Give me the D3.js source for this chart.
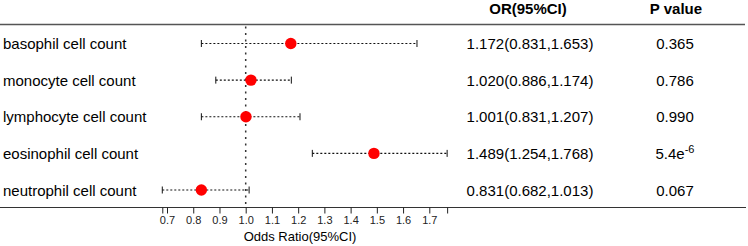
<!DOCTYPE html>
<html>
<head>
<meta charset="utf-8">
<script src="https://cdn.jsdelivr.net/npm/d3@7"></script>
<style>
  body { margin: 0; background: #fff; }
  svg { display: block; font-family: "Liberation Sans", Arial, sans-serif; }
</style>
</head>
<body>
<div id="chart"></div>
<script>
// data
const categories = ["basophil cell count", "monocyte cell count", "lymphocyte cell count",
                    "eosinophil cell count", "neutrophil cell count"];
const orValues = [1.172, 1.020, 1.001, 1.489, 0.831];
const ciLow = [0.831, 0.886, 0.831, 1.254, 0.682];
const ciHigh = [1.653, 1.174, 1.207, 1.768, 1.013];
const pValues = ["0.365", "0.786", "0.990", "5.4e|-6", "0.067"];
const tickValues = [0.682, 0.7, 0.8, 0.9, 1.0, 1.1, 1.2, 1.3, 1.4, 1.5, 1.6, 1.7, 1.768];
const tickLabels = ["", "0.7", "0.8", "0.9", "1.0", "1.1", "1.2", "1.3", "1.4", "1.5", "1.6", "1.7", ""];

const rows = categories.map((c, i) => ({
    name: c, or: orValues[i], lo: ciLow[i], hi: ciHigh[i], p: pValues[i]
}));

const width = 748, height = 246;
const topLine = 24.5, axisY = 207.5;

const svg = d3.select("#chart").append("svg")
    .attr("width", width)
    .attr("height", height);

const x = d3.scaleLinear()
    .domain([1.0, 1.7])
    .range([245.7, 429.3]);

const y = d3.scalePoint()
    .domain(categories)
    .range([43.5, 190]);

// header
svg.append("text")
    .attr("x", 528).attr("y", 13.5)
    .attr("text-anchor", "middle")
    .attr("font-size", 15).attr("font-weight", "bold")
    .text("OR(95%CI)");
svg.append("text")
    .attr("x", 676).attr("y", 13.5)
    .attr("text-anchor", "middle")
    .attr("font-size", 15).attr("font-weight", "bold")
    .text("P value");

// horizontal rules
svg.append("line")
    .attr("x1", 0).attr("x2", 745)
    .attr("y1", topLine).attr("y2", topLine)
    .attr("stroke", "#555").attr("stroke-width", 1.5);
svg.append("line")
    .attr("x1", 0).attr("x2", 746)
    .attr("y1", axisY).attr("y2", axisY)
    .attr("stroke", "#333").attr("stroke-width", 1.2);

// reference line at 1
svg.append("line")
    .attr("x1", x(1)).attr("x2", x(1))
    .attr("y1", topLine + 2).attr("y2", axisY)
    .attr("stroke", "#333").attr("stroke-width", 1.5)
    .attr("stroke-dasharray", "2,4.5");

// axis
const axis = svg.append("g")
    .attr("transform", `translate(0,${axisY})`)
    .call(d3.axisBottom(x)
        .tickValues(tickValues)
        .tickFormat((d, i) => tickLabels[i])
        .tickSize(6)
        .tickPadding(3));
axis.select(".domain").remove();
axis.selectAll(".tick line").attr("stroke", "#222");
axis.selectAll(".tick text")
    .attr("font-size", 11)
    .attr("font-family", "Liberation Sans, Arial, sans-serif")
    .attr("fill", "#222");

svg.append("text")
    .attr("x", 300).attr("y", 241)
    .attr("text-anchor", "middle")
    .attr("font-size", 13)
    .text("Odds Ratio(95%CI)");

// rows
const row = svg.selectAll(".row")
    .data(rows)
    .enter()
    .append("g")
    .attr("class", "row");

row.append("text")
    .attr("x", 3)
    .attr("y", d => y(d.name) + 5.5)
    .attr("font-size", 15)
    .text(d => d.name);

row.append("line")
    .attr("x1", d => x(d.lo)).attr("x2", d => x(d.hi))
    .attr("y1", d => y(d.name)).attr("y2", d => y(d.name))
    .attr("stroke", "#111").attr("stroke-width", 1.1)
    .attr("stroke-dasharray", "2,2");

row.append("line")
    .attr("x1", d => x(d.lo)).attr("x2", d => x(d.lo))
    .attr("y1", d => y(d.name) - 3.5).attr("y2", d => y(d.name) + 3.5)
    .attr("stroke", "#111");
row.append("line")
    .attr("x1", d => x(d.hi)).attr("x2", d => x(d.hi))
    .attr("y1", d => y(d.name) - 3.5).attr("y2", d => y(d.name) + 3.5)
    .attr("stroke", "#111");

row.append("circle")
    .attr("cx", d => x(d.or))
    .attr("cy", d => y(d.name))
    .attr("r", 5.7)
    .attr("fill", "#ff0000");

row.append("text")
    .attr("x", 530)
    .attr("y", d => y(d.name) + 5.5)
    .attr("text-anchor", "middle")
    .attr("font-size", 15)
    .text(d => `${d.or.toFixed(3)}(${d.lo.toFixed(3)},${d.hi.toFixed(3)})`);

row.each(function(d) {
    const parts = d.p.split("|");
    const t = d3.select(this).append("text")
        .attr("x", 675)
        .attr("y", y(d.name) + 5.5)
        .attr("text-anchor", "middle")
        .attr("font-size", 15);
    t.append("tspan").text(parts[0]);
    if (parts[1]) {
        t.append("tspan")
            .attr("dy", -6)
            .attr("font-size", 11)
            .text(parts[1]);
    }
});
</script>
</body>
</html>
